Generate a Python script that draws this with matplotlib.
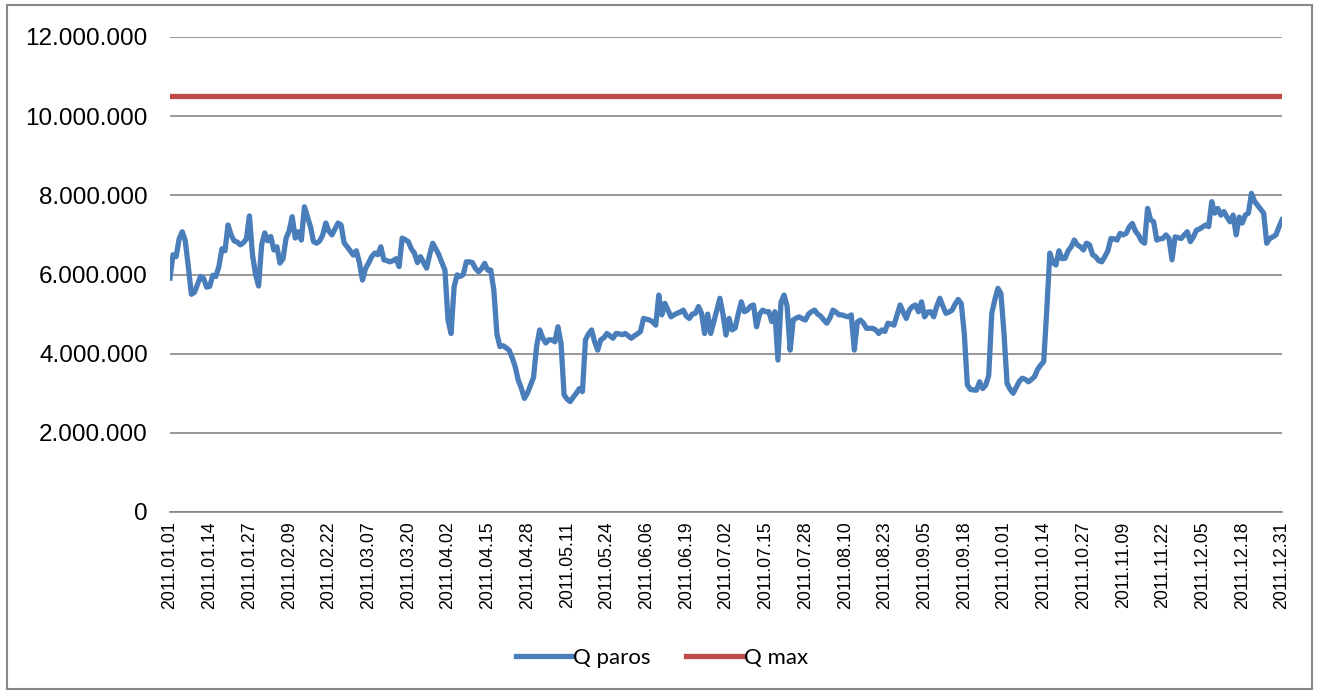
import numpy as np
import pandas as pd
import matplotlib
matplotlib.use("Agg")
import matplotlib.pyplot as plt
from matplotlib.patches import Rectangle
from matplotlib.ticker import FuncFormatter

# daily values for 2011 (millions)
q_paros = [
    5.91, 6.50, 6.45, 6.90, 7.08, 6.85, 6.20, 5.50, 5.55, 5.75,
    5.95, 5.90, 5.68, 5.70, 5.98, 5.95, 6.20, 6.65, 6.60, 7.25,
    7.00, 6.85, 6.82, 6.75, 6.80, 6.90, 7.48, 6.50, 6.00, 5.71,
    6.75, 7.05, 6.85, 6.96, 6.62, 6.70, 6.29, 6.40, 6.92, 7.10,
    7.46, 6.92, 7.08, 6.87, 7.71, 7.46, 7.20, 6.83, 6.79, 6.85,
    7.00, 7.30, 7.10, 7.00, 7.15, 7.30, 7.25, 6.80, 6.70, 6.60,
    6.49, 6.60, 6.30, 5.86, 6.15, 6.29, 6.45, 6.54, 6.50, 6.70,
    6.37, 6.35, 6.32, 6.35, 6.40, 6.20, 6.92, 6.88, 6.83, 6.65,
    6.54, 6.30, 6.45, 6.30, 6.16, 6.50, 6.79, 6.65, 6.50, 6.30,
    6.11, 4.85, 4.51, 5.69, 5.99, 5.95, 6.00, 6.32, 6.32, 6.30,
    6.15, 6.07, 6.15, 6.28, 6.11, 6.11, 5.61, 4.50, 4.18, 4.20,
    4.15, 4.09, 3.90, 3.67, 3.33, 3.13, 2.87, 3.00, 3.20, 3.40,
    4.18, 4.60, 4.40, 4.27, 4.35, 4.35, 4.30, 4.68, 4.26, 2.96,
    2.85, 2.79, 2.90, 3.00, 3.12, 3.04, 4.35, 4.50, 4.60, 4.30,
    4.09, 4.35, 4.40, 4.51, 4.45, 4.39, 4.51, 4.50, 4.48, 4.51,
    4.45, 4.39, 4.45, 4.50, 4.56, 4.89, 4.87, 4.85, 4.80, 4.72,
    5.48, 4.98, 5.27, 5.10, 4.93, 4.98, 5.02, 5.05, 5.10, 4.95,
    4.89, 5.00, 5.02, 5.19, 5.02, 4.51, 5.00, 4.51, 4.80, 5.10,
    5.40, 5.00, 4.47, 4.89, 4.60, 4.65, 5.00, 5.31, 5.06, 5.10,
    5.20, 5.23, 4.68, 5.00, 5.10, 5.06, 5.06, 4.81, 5.06, 3.84,
    5.30, 5.48, 5.20, 4.09, 4.85, 4.90, 4.93, 4.88, 4.85, 5.00,
    5.06, 5.10, 5.00, 4.95, 4.85, 4.77, 4.90, 5.10, 5.05, 4.98,
    4.98, 4.95, 4.93, 4.98, 4.09, 4.80, 4.85, 4.77, 4.64, 4.64,
    4.64, 4.60, 4.51, 4.60, 4.56, 4.77, 4.75, 4.72, 4.98, 5.23,
    5.05, 4.89, 5.10, 5.19, 5.23, 5.06, 5.31, 4.93, 5.05, 5.06,
    4.93, 5.20, 5.40, 5.20, 5.02, 5.05, 5.10, 5.25, 5.37, 5.27,
    4.51, 3.21, 3.10, 3.08, 3.08, 3.29, 3.12, 3.20, 3.45, 5.02,
    5.36, 5.65, 5.52, 4.51, 3.25, 3.10, 3.00, 3.15, 3.30, 3.38,
    3.35, 3.29, 3.35, 3.42, 3.60, 3.71, 3.80, 5.10, 6.54, 6.30,
    6.24, 6.60, 6.40, 6.41, 6.60, 6.70, 6.87, 6.75, 6.70, 6.62,
    6.79, 6.75, 6.50, 6.45, 6.35, 6.32, 6.45, 6.60, 6.91, 6.90,
    6.87, 7.04, 7.00, 7.04, 7.20, 7.29, 7.10, 7.00, 6.85, 6.79,
    7.67, 7.38, 7.33, 6.87, 6.90, 6.91, 7.00, 6.91, 6.37, 6.95,
    6.93, 6.91, 7.00, 7.08, 6.83, 6.95, 7.12, 7.15, 7.20, 7.25,
    7.21, 7.84, 7.55, 7.67, 7.50, 7.59, 7.45, 7.33, 7.50, 7.00,
    7.45, 7.30, 7.50, 7.55, 8.05, 7.85, 7.75, 7.65, 7.55, 6.79,
    6.91, 6.95, 7.00, 7.20, 7.38,
]
q_max = 10.5  # millions, constant limit
dates = pd.date_range("2011-01-01", "2011-12-31", freq="D")
tick_step = 13

q_paros = np.array(q_paros) * 1e6
q_max_line = np.full(len(dates), q_max * 1e6)
x = np.arange(len(dates))

fig = plt.figure(figsize=(13.18, 6.92), dpi=100)
ax = fig.add_axes([170 / 1318, 1 - 512 / 692, (1282 - 170) / 1318, (512 - 37) / 692])

# outer chart border
fig.patches.append(Rectangle((7 / 1318, 3 / 692), 1305 / 1318, 684 / 692,
                             transform=fig.transFigure, fill=False,
                             edgecolor="#868686", lw=1.5))

ax.plot(x, q_paros, color="#4a7ebb", lw=3.8, label="Q paros", solid_joinstyle="round")
ax.plot(x, q_max_line, color="#be4b48", lw=3.8, label="Q max")

ax.set_xlim(0, len(dates) - 1)
ax.set_ylim(0, 12e6)
ax.set_yticks(np.arange(0, 12e6 + 1, 2e6))
ax.yaxis.set_major_formatter(FuncFormatter(lambda v, p: f"{int(v):,}".replace(",", ".")))
ax.grid(axis="y", color="#868686", lw=1.2)
ax.set_axisbelow(True)

ticks = x[::tick_step]
ax.set_xticks(ticks)
ax.set_xticklabels([dates[i].strftime("%Y.%m.%d") for i in ticks], rotation=90,
                   fontsize=12.8, family="Liberation Sans", va="top")
for lab in ax.get_yticklabels():
    lab.set_family("Liberation Sans")
    lab.set_fontsize(17.5)
ax.tick_params(axis="y", length=0, pad=16)
ax.tick_params(axis="x", length=0, pad=7)

for side in ["top", "right", "left"]:
    ax.spines[side].set_visible(False)
ax.spines["bottom"].set_color("#868686")
ax.spines["bottom"].set_linewidth(1.2)

fig.legend(loc="center", bbox_to_anchor=(662 / 1318, 1 - 658 / 692), ncol=2,
           frameon=False, prop={"family": "Lato", "size": 16},
           handlelength=2.5, handletextpad=0.1, columnspacing=1.6)

fig.savefig("out.png", dpi=100)
